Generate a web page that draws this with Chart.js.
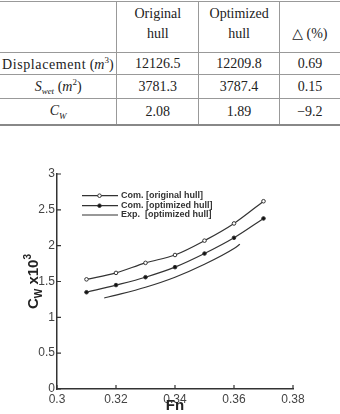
<!DOCTYPE html>
<html>
<head>
<meta charset="utf-8">
<script src="https://cdn.jsdelivr.net/npm/chart.js@4.4.1/dist/chart.umd.min.js"></script>
<style>
  body { margin: 0; background: #fff; width: 340px; height: 414px; overflow: hidden; position: relative; }
  table { position: absolute; left: 0; top: 1px; width: 340px; border-collapse: collapse;
          font-family: "Liberation Serif", "DejaVu Serif", serif; font-size: 14px; color: #222; }
  td { text-align: center; padding: 0; border-top: 1px solid #999; border-bottom: 1px solid #999; }
  td + td { border-left: 1px solid #999; }
  tr.head td { height: 48px; vertical-align: top; line-height: 20px; padding-top: 2px; }
  tr.r1 td { height: 21px; }
  tr.r2 td { height: 23px; }
  tr.r3 td { border-bottom: 2px solid #888; height: 25px; }
  sub { font-size: 9px; }
  sup { font-size: 9px; }
  #wrap { position: absolute; left: 0; top: 160px; width: 340px; height: 254px; }
</style>
</head>
<body>
<table>
  <tr class="head">
    <td style="width:117px"></td>
    <td style="width:82px">Original<br>hull</td>
    <td style="width:80px">Optimized<br>hull</td>
    <td style="width:61px"><br>&#9651; (%)</td>
  </tr>
  <tr class="r1">
    <td style="text-align:left; padding-left:2px"><span style="letter-spacing:0.6px">Displacement</span> (<i>m</i><sup>3</sup>)</td>
    <td>12126.5</td><td>12209.8</td><td>0.69</td>
  </tr>
  <tr class="r2">
    <td><i>S</i><sub><i>wet</i></sub> (<i>m</i><sup>2</sup>)</td>
    <td>3781.3</td><td>3787.4</td><td>0.15</td>
  </tr>
  <tr class="r3">
    <td><i>C</i><sub><i>W</i></sub></td>
    <td>2.08</td><td>1.89</td><td>&minus;9.2</td>
  </tr>
</table>
<div id="wrap"><canvas id="chart" width="340" height="254"></canvas></div>
<script>
// Froude numbers of the computed points
const fnComputed = [0.31, 0.32, 0.33, 0.34, 0.35, 0.36, 0.37];
const cwOriginal = [1.53, 1.62, 1.76, 1.87, 2.07, 2.31, 2.62];
const cwOptimized = [1.35, 1.45, 1.56, 1.70, 1.89, 2.11, 2.38];
// experiment curve
const fnExp = [0.316, 0.32, 0.33, 0.34, 0.35, 0.36, 0.362];
const cwExp = [1.27, 1.31, 1.42, 1.56, 1.74, 1.96, 2.02];
const seriesLabels = ["Com. [original hull]", "Com. [optimized hull]", "Exp.  [optimized hull]"];
const xTicks = [0.3, 0.32, 0.34, 0.36, 0.38];
const yTicks = [0, 0.5, 1, 1.5, 2, 2.5, 3];

const ink = "#333";

function pts(xs, ys) {
    return xs.map((x, i) => ({x: x, y: ys[i]}));
}

// inward tick marks, legend and axis titles
const extras = {
    id: "extras",
    afterDraw(chart) {
        const ctx = chart.ctx;
        const xs = chart.scales.x, ys = chart.scales.y;
        const area = chart.chartArea;
        ctx.save();
        ctx.strokeStyle = ink;
        ctx.lineWidth = 1.2;
        ctx.beginPath();
        xTicks.forEach(v => {
            const px = xs.getPixelForValue(v);
            ctx.moveTo(px, area.bottom);
            ctx.lineTo(px, area.bottom - 4);
        });
        yTicks.forEach(v => {
            const py = ys.getPixelForValue(v);
            ctx.moveTo(area.left, py);
            ctx.lineTo(area.left + 4, py);
        });
        ctx.stroke();

        // legend
        const rows = [35.7, 45.7, 55];
        chart.data.datasets.forEach((ds, i) => {
            const y = rows[i];
            ctx.strokeStyle = ink;
            ctx.lineWidth = 1.2;
            ctx.beginPath();
            ctx.moveTo(82, y);
            ctx.lineTo(118, y);
            ctx.stroke();
            if (ds.pointRadius > 0) {
                ctx.beginPath();
                ctx.arc(99.5, y, ds.pointRadius, 0, Math.PI * 2);
                ctx.fillStyle = ds.pointBackgroundColor;
                ctx.fill();
                ctx.lineWidth = 1;
                ctx.stroke();
            }
            ctx.fillStyle = ink;
            ctx.font = "bold 9px 'Liberation Sans', Arial, sans-serif";
            ctx.textBaseline = "middle";
            ctx.textAlign = "left";
            ctx.fillText(ds.label, 121, y);
        });

        // x title
        ctx.fillStyle = "#222";
        ctx.font = "bold 15px 'Liberation Sans', Arial, sans-serif";
        ctx.textAlign = "center";
        ctx.textBaseline = "middle";
        ctx.fillText("Fn", (area.left + area.right) / 2, 246);

        // y title: C_W x10^3
        const big = "bold 15px 'Liberation Sans', Arial, sans-serif";
        const small = "bold 10px 'Liberation Sans', Arial, sans-serif";
        const parts = [
            {t: "C", f: big, dy: 0},
            {t: "W", f: small, dy: 4},
            {t: " x10", f: big, dy: 0},
            {t: "3", f: small, dy: -7}
        ];
        let total = 0;
        parts.forEach(p => { ctx.font = p.f; p.w = ctx.measureText(p.t).width; total += p.w; });
        ctx.translate(38, (area.top + area.bottom) / 2);
        ctx.rotate(-Math.PI / 2);
        ctx.textAlign = "left";
        ctx.textBaseline = "alphabetic";
        let cx = -total / 2;
        parts.forEach(p => {
            ctx.font = p.f;
            ctx.fillText(p.t, cx, p.dy);
            cx += p.w;
        });
        ctx.restore();
    }
};

const tickFont = {family: "'Liberation Sans', Arial, sans-serif", size: 12};

new Chart(document.getElementById("chart"), {
    type: "line",
    data: {
        datasets: [
            {
                label: seriesLabels[0],
                data: pts(fnComputed, cwOriginal),
                borderColor: ink, borderWidth: 1.2,
                pointRadius: 1.8, pointBackgroundColor: "#fff", pointBorderColor: ink, pointBorderWidth: 1,
                cubicInterpolationMode: "monotone"
            },
            {
                label: seriesLabels[1],
                data: pts(fnComputed, cwOptimized),
                borderColor: ink, borderWidth: 1.2,
                pointRadius: 1.8, pointBackgroundColor: "#111", pointBorderColor: ink, pointBorderWidth: 1,
                cubicInterpolationMode: "monotone"
            },
            {
                label: seriesLabels[2],
                data: pts(fnExp, cwExp),
                borderColor: ink, borderWidth: 1.2,
                pointRadius: 0,
                cubicInterpolationMode: "monotone"
            }
        ]
    },
    options: {
        responsive: false,
        animation: false,
        devicePixelRatio: 1,
        layout: {padding: {left: 0, top: 14, right: 47, bottom: 0}},
        plugins: {legend: {display: false}, tooltip: {enabled: false}},
        scales: {
            x: {
                type: "linear", min: 0.3, max: 0.38,
                afterFit(scale) { scale.height = 25; },
                afterBuildTicks(scale) { scale.ticks = xTicks.map(v => ({value: v})); },
                grid: {display: false, drawTicks: false},
                border: {display: true, color: ink, width: 1.5},
                ticks: {padding: 3, color: "#444", font: tickFont, maxRotation: 0,
                        callback: v => String(Number(v.toFixed(2)))}
            },
            y: {
                type: "linear", min: 0, max: 3,
                afterFit(scale) { scale.width = 57; },
                afterBuildTicks(scale) { scale.ticks = yTicks.map(v => ({value: v})); },
                grid: {display: false, drawTicks: false},
                border: {display: true, color: ink, width: 1.5},
                ticks: {padding: 2, color: "#444", font: tickFont,
                        callback: v => String(Number(v.toFixed(1)))}
            }
        }
    },
    plugins: [extras]
});
</script>
</body>
</html>
